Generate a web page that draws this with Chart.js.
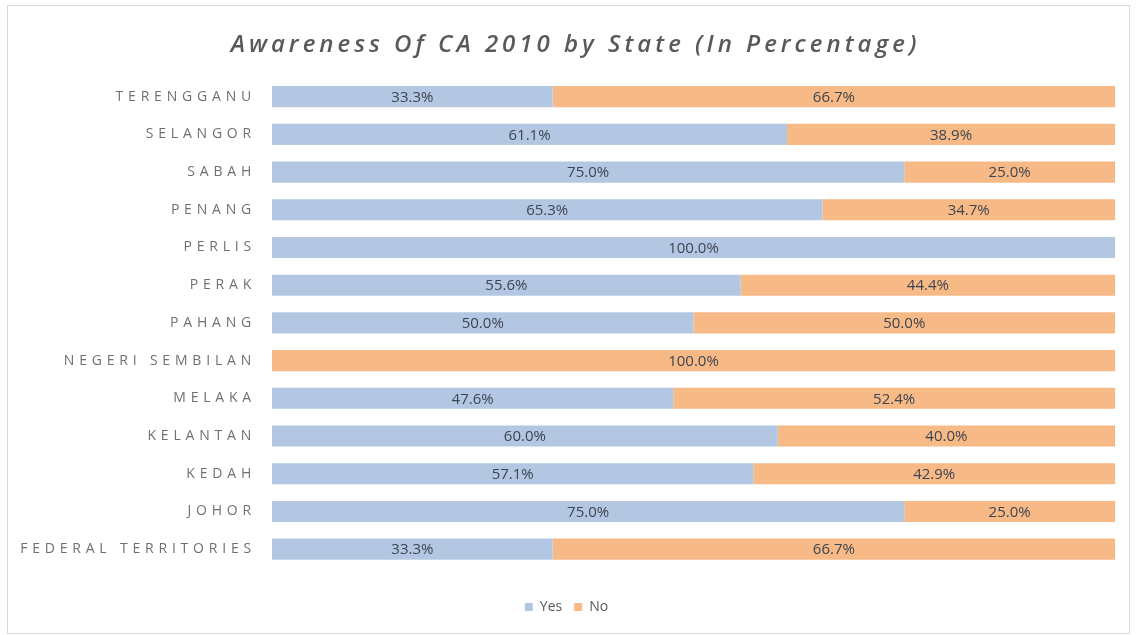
<!DOCTYPE html>
<html>
<head>
<meta charset="utf-8">
<script src="https://cdn.jsdelivr.net/npm/chart.js@4"></script>
<style>
  html, body { margin: 0; padding: 0; background: #fff; }
  canvas { display: block; }
</style>
</head>
<body>
<canvas id="myChart" width="1137" height="635"></canvas>
<script>
// states, top to bottom as in the picture
const states = ['TERENGGANU', 'SELANGOR', 'SABAH', 'PENANG', 'PERLIS', 'PERAK', 'PAHANG',
  'NEGERI SEMBILAN', 'MELAKA', 'KELANTAN', 'KEDAH', 'JOHOR', 'FEDERAL TERRITORIES'];
const yesValues = [33.3, 61.1, 75.0, 65.3, 100.0, 55.6, 50.0, 0, 47.6, 60.0, 57.1, 75.0, 33.3];
const noValues = [66.7, 38.9, 25.0, 34.7, 0, 44.4, 50.0, 100.0, 52.4, 40.0, 42.9, 25.0, 66.7];

const fontFamily = '"Open Sans", Lato, sans-serif';

// white background + thin frame
const framePlugin = {
  id: 'frame',
  beforeDraw(chart) {
    const ctx = chart.ctx;
    ctx.save();
    ctx.fillStyle = '#fff';
    ctx.fillRect(0, 0, chart.width, chart.height);
    ctx.strokeStyle = '#d9d9d9';
    ctx.lineWidth = 1;
    ctx.strokeRect(7.5, 5.5, 1122, 628);
    ctx.restore();
  }
};

// wrap a box's draw so the ctx gets letter spacing / a small x shift
function wrapDraw(box, spacing, dx) {
  if (!box || box._wrapped) return;
  const orig = box.draw;
  box.draw = function (area) {
    this.ctx.save();
    this.ctx.letterSpacing = spacing;
    this.ctx.translate(dx, 0);
    orig.call(this, area);
    this.ctx.restore();
  };
  box._wrapped = true;
}

// letter spacing for category labels and title (Chart.js has no option for it)
const spacingPlugin = {
  id: 'spacing',
  beforeDraw(chart) {
    const y = chart.scales.y;
    if (y && !y._spaced) {
      const origLabels = y.drawLabels;
      y.drawLabels = function (area) {
        this.ctx.save();
        this.ctx.letterSpacing = '4.8px';
        origLabels.call(this, area);
        this.ctx.restore();
      };
      y._spaced = true;
    }
    wrapDraw(chart.titleBlock, '4px', 18);
    wrapDraw(chart.legend, '0px', 9);
  }
};

// percentage labels in the middle of each segment
const valueLabels = {
  id: 'valueLabels',
  afterDatasetsDraw(chart) {
    const ctx = chart.ctx;
    ctx.save();
    ctx.font = '15px ' + fontFamily;
    ctx.fillStyle = '#3d4552';
    ctx.textAlign = 'center';
    ctx.textBaseline = 'middle';
    chart.data.datasets.forEach((ds, i) => {
      chart.getDatasetMeta(i).data.forEach((bar, j) => {
        const v = ds.data[j];
        if (!v) return;
        ctx.fillText(v.toFixed(1) + '%', (bar.x + bar.base) / 2, bar.y + 1);
      });
    });
    ctx.restore();
  }
};

new Chart(document.getElementById('myChart'), {
  type: 'bar',
  data: {
    labels: states,
    datasets: [
      { label: 'Yes', data: yesValues, backgroundColor: '#b4c7e2', categoryPercentage: 0.8, barPercentage: 0.7 },
      { label: 'No', data: noValues, backgroundColor: '#f7b985', categoryPercentage: 0.8, barPercentage: 0.7 }
    ]
  },
  options: {
    indexAxis: 'y',
    responsive: false,
    animation: false,
    layout: { padding: { left: 0, right: 22, top: 0, bottom: 11 } },
    scales: {
      x: {
        stacked: true, min: 0, max: 100,
        ticks: { display: false },
        grid: { display: false, drawTicks: false },
        border: { display: false },
        afterFit(scale) { scale.height = 20; }
      },
      y: {
        stacked: true,
        grid: { display: false, drawTicks: false },
        border: { display: false },
        ticks: { color: '#707070', font: { family: fontFamily, size: 14 }, padding: 16 },
        afterFit(scale) { scale.width = 272; }
      }
    },
    plugins: {
      title: {
        display: true,
        text: 'Awareness Of CA 2010 by State (In Percentage)',
        color: '#595959',
        font: { family: fontFamily, size: 24, style: 'italic', weight: '600' },
        padding: { top: 31, bottom: 18 }
      },
      legend: {
        position: 'bottom',
        labels: {
          color: '#595959',
          font: { family: fontFamily, size: 14 },
          boxWidth: 8,
          boxHeight: 8,
          padding: 12
        }
      },
      tooltip: { enabled: false }
    }
  },
  plugins: [framePlugin, spacingPlugin, valueLabels]
});
</script>
</body>
</html>
